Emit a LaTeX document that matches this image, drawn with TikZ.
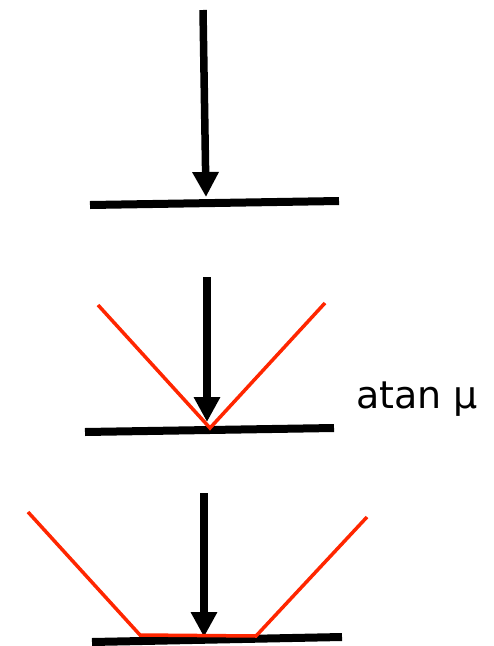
\documentclass[tikz,border=0pt]{standalone}
\usepackage{fontspec}
\setmainfont{DejaVu Sans}
\usetikzlibrary{arrows.meta}
\definecolor{redline}{RGB}{255,38,0}
\begin{document}
\begin{tikzpicture}[x=1pt,y=-1pt,
  force/.style={line width=7.5pt,-{Triangle[width=25pt,length=25pt]}},
  surface/.style={line width=8pt,black},
  cone/.style={line width=3.5pt,redline}]
\useasboundingbox (0,0) rectangle (494,646);
% panel 1
\coordinate (a1s) at (203,10);
\coordinate (a1e) at (206,197);
\coordinate (s1l) at (90,205);
\coordinate (s1r) at (339,201);
\draw[surface] (s1l) -- (s1r);
\draw[force] (a1s) -- (a1e);
% panel 2
\coordinate (a2s) at (207,277);
\coordinate (a2e) at (207,422);
\coordinate (s2l) at (85,432);
\coordinate (s2r) at (334,428);
\coordinate (c2l) at (98,305);
\coordinate (c2m) at (210,428);
\coordinate (c2r) at (325,303);
\draw[surface] (s2l) -- (s2r);
\draw[force] (a2s) -- (a2e);
\draw[cone] (c2l) -- (c2m) -- (c2r);
\node[anchor=base west,inner sep=0pt,font=\fontsize{38}{45}\selectfont] (lbl) at (356,408) {atan μ};
% panel 3
\coordinate (a3s) at (204,493);
\coordinate (a3e) at (204,637);
\coordinate (s3l) at (92,642);
\coordinate (s3r) at (342,637);
\coordinate (c3l) at (28,512);
\coordinate (c3a) at (140,635);
\coordinate (c3b) at (256,636);
\coordinate (c3r) at (367,517);
\draw[surface] (s3l) -- (s3r);
\draw[force] (a3s) -- (a3e);
\draw[cone] (c3l) -- (c3a) -- (c3b) -- (c3r);
\end{tikzpicture}
\end{document}
